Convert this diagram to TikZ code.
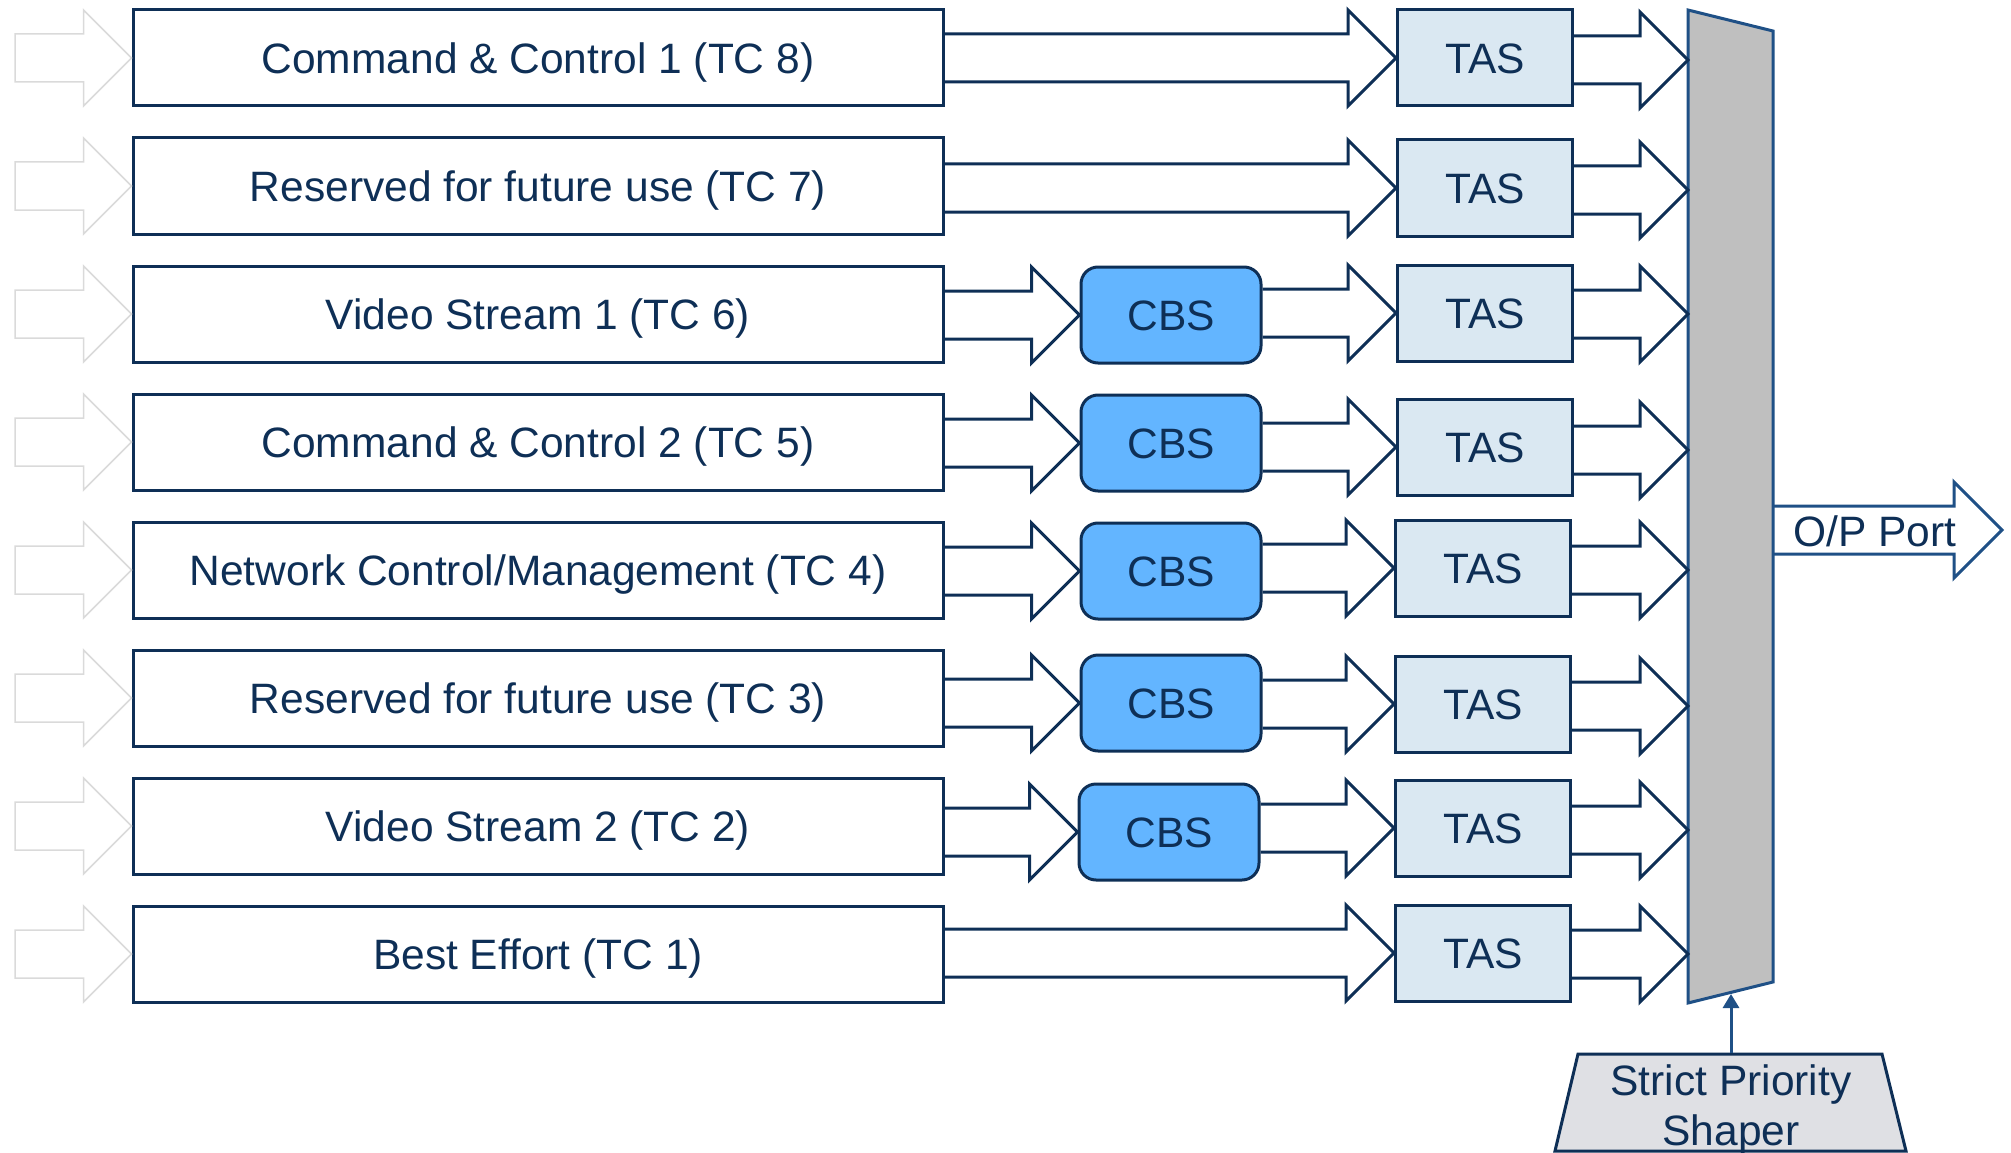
\documentclass[tikz,border=0pt]{standalone}
\usepackage{fontspec}
\setmainfont{Liberation Sans}
\usetikzlibrary{calc,arrows.meta}
\definecolor{navy}{HTML}{0E2F56}
\definecolor{muxblue}{HTML}{1F5086}
\definecolor{tasfill}{HTML}{DAE8F2}
\definecolor{cbsfill}{HTML}{63B5FF}
\definecolor{ghost}{HTML}{DADADA}
\definecolor{muxfill}{HTML}{BFBFBF}
\definecolor{spfill}{HTML}{DFE0E4}
% block arrow from point #2 to point #3 (open at its start)
\newcommand\fatarrow[3][navy]{%
  \draw[#1,line width=3pt,line join=miter] let \p1=(#2), \p2=(#3) in
    (\x1,\y2+24pt) -- (\x2-48pt,\y2+24pt) -- (\x2-48pt,\y2+48pt) -- (\x2,\y2)
    -- (\x2-48pt,\y2-48pt) -- (\x2-48pt,\y2-24pt) -- (\x1,\y2-24pt);}
% light grey incoming arrow ending at point #1
\newcommand\ghostarrow[1]{%
  \draw[ghost,line width=1.5pt,line join=miter] let \p2=(#1) in
    (15pt,\y2+24pt) -- (\x2-48pt,\y2+24pt) -- (\x2-48pt,\y2+48pt) -- (\x2,\y2)
    -- (\x2-48pt,\y2-48pt) -- (\x2-48pt,\y2-24pt) -- (15pt,\y2-24pt) -- cycle;}
\begin{document}
\begin{tikzpicture}[x=1pt,y=-1pt,
  lbox/.style={draw=navy, line width=3pt, minimum width=810pt, minimum height=96pt,
    inner sep=0pt, text=navy, font=\fontsize{42.5}{50}\selectfont,
    text height=30.5pt, text depth=0pt},
  tasbox/.style={lbox, fill=tasfill, minimum width=175pt},
  cbsbox/.style={lbox, fill=cbsfill, rounded corners=17pt, minimum width=180pt},
  pt0/.style={inner sep=0pt, outer sep=0pt, minimum size=0pt},
  lbl/.style={text=navy, font=\fontsize{42.5}{50}\selectfont, inner sep=0pt}]
\useasboundingbox (0,0) rectangle (2011,1153);

% traffic class boxes
\node[lbox] (L1) at (538,58)  {Command \& Control 1 (TC 8)};
\node[lbox] (L2) at (538,186) {Reserved for future use (TC 7)};
\node[lbox] (L3) at (538,314) {Video Stream 1 (TC 6)};
\node[lbox] (L4) at (538,442) {Command \& Control 2 (TC 5)};
\node[lbox] (L5) at (538,570) {Network Control/Management (TC 4)};
\node[lbox] (L6) at (538,698) {Reserved for future use (TC 3)};
\node[lbox] (L7) at (538,826) {Video Stream 2 (TC 2)};
\node[lbox] (L8) at (538,954) {Best Effort (TC 1)};

% CBS
\node[cbsbox] (C3) at (1171,315) {CBS};
\node[cbsbox] (C4) at (1171,443) {CBS};
\node[cbsbox] (C5) at (1171,571) {CBS};
\node[cbsbox] (C6) at (1171,703) {CBS};
\node[cbsbox] (C7) at (1169,832) {CBS};

% TAS
\node[tasbox] (T1) at (1485,58)  {TAS};
\node[tasbox] (T2) at (1485,188) {TAS};
\node[tasbox] (T3) at (1485,313) {TAS};
\node[tasbox] (T4) at (1485,447) {TAS};
\node[tasbox] (T5) at (1483,568) {TAS};
\node[tasbox] (T6) at (1483,704) {TAS};
\node[tasbox] (T7) at (1483,828) {TAS};
\node[tasbox] (T8) at (1483,953) {TAS};

% multiplexer
\filldraw[fill=muxfill, draw=muxblue, line width=3pt, line join=miter]
  (1688,10) -- (1773,31) -- (1773,982) -- (1688,1003) -- cycle;
\foreach \i/\y in {1/60,2/190,3/314,4/450,5/570,6/706,7/830,8/954}
  \node[pt0] (M\i) at (1688,\y) {};

% incoming ghost arrows
\foreach \i in {1,...,8} { \ghostarrow{L\i.west} }

% arrows
\fatarrow{L1.east}{T1.west}
\fatarrow{L2.east}{T2.west}
\fatarrow{L8.east}{T8.west}
\foreach \i in {3,...,7} {
  \fatarrow{L\i.east}{C\i.west}
  \fatarrow{C\i.east}{T\i.west}
}
\foreach \i in {1,...,8} { \fatarrow{T\i.east}{M\i} }

% output port
\node[pt0] (ops) at (1773,530) {};
\node[pt0] (ope) at (2002,530) {};
\fatarrow[muxblue]{ops}{ope}
\node[lbl] (opl) at (1875,531) {O/P Port};

% strict priority shaper
\filldraw[fill=spfill, draw=navy, line width=3pt, line join=miter]
  (1578,1054) -- (1882,1054) -- (1906,1151) -- (1555,1151) -- cycle;
\node[lbl, anchor=base] (sp1) at (1731,1095) {Strict Priority};
\node[lbl, anchor=base] (sp2) at (1731,1145) {Shaper};
\node[pt0] (sptop) at (1731,1053) {};
\node[pt0] (muxbot) at (1731,994) {};
\draw[muxblue, line width=3pt, -{Triangle[width=16pt,length=14pt]}] (sptop) -- (muxbot);
\end{tikzpicture}
\end{document}
